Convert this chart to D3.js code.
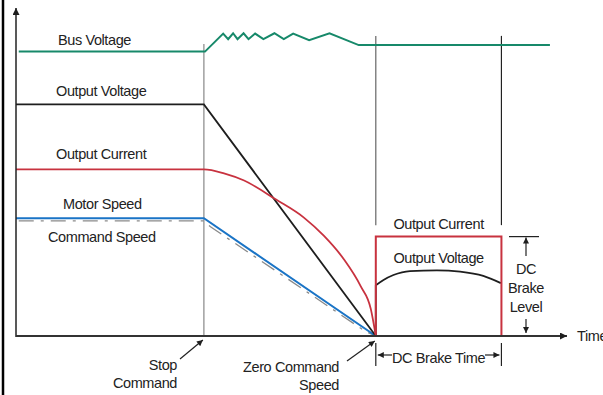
<!DOCTYPE html>
<html><head><meta charset="utf-8">
<script src="https://cdn.jsdelivr.net/npm/d3@7"></script>
<style>
html,body{margin:0;padding:0;background:#fff;}
svg{display:block;}
text{font-family:"Liberation Sans",Arial,Helvetica,sans-serif;font-size:14.5px;letter-spacing:-0.4px;fill:#222;}
</style></head>
<body>
<svg id="chart" width="603" height="395"></svg>
<script>
// ---- data (time units 0..100, level units 0..100) ----
const eventNames = ["Stop Command", "Zero Command Speed", "DC Brake End"];
const eventTimes = [34.1, 65.3, 88.1];
const busVoltage = [[0.5,86.7],[34.3,86.7],[37.6,92.2],[38.5,90.5],[39.4,92.3],[40.2,90.5],[41.3,92.3],[42.2,90.5],[43.4,92.2],[44.9,90.5],[46.9,92.3],[48.6,90.5],[50.3,92.2],[53.2,90.2],[56.9,92.3],[62.2,88.7],[96.9,88.7]];
const outputVoltage = [[0,70.6],[34.1,70.6],[65.3,0]];
const outputCurrent = [[0,50.8],[34.1,50.8],[37.75,49.6],[41.4,47.4],[47.2,41.6],[52.25,36.1],[55.9,30.5],[59.5,23.4],[62.55,15.2],[64.4,8.2],[65.3,0]];
const motorSpeed = [[0,35.9],[34.1,35.9],[65.3,0]];
const commandSpeed = [[0.5,35.1],[34.1,35.1],[35.3,33.3],[63.5,1.3],[65.3,0]];
const brakeCurrent = [[65.3,0],[65.3,30.3],[88.1,30.3],[88.1,0]];
const brakeVoltageArc = [[65.3,15.5],[66.7,17.1],[68.5,18.6],[71.5,19.8],[76.4,20.0],[80.6,19.6],[84.8,18.3],[88.0,16.1]];
const seriesLabels = ["Bus Voltage","Output Voltage","Output Current","Motor Speed","Command Speed"];
const brakeLabels = ["Output Current","Output Voltage"];
const brakeLevelLabel = ["DC","Brake","Level"];
const axisLabel = "Time";

// ---- layout ----
const svg = d3.select("#chart");
const x = d3.scaleLinear().domain([0,100]).range([16,567]);
const y = d3.scaleLinear().domain([0,100]).range([336,8]);
const C = {green:"#17896a", black:"#1e1e1e", red:"#c8323f", blue:"#1a74c6", gray:"#7a7a7a"};

const defs = svg.append("defs");
function marker(id, w, h){
  defs.append("marker").attr("id",id).attr("viewBox","0 0 10 10").attr("refX",10).attr("refY",5)
    .attr("markerWidth",w).attr("markerHeight",h).attr("markerUnits","userSpaceOnUse").attr("orient","auto")
    .append("path").attr("d","M0,0 L10,5 L0,10 z").attr("fill","#1e1e1e");
}
marker("ah", 11, 7);
marker("ahs", 11, 6);

// left frame border
svg.append("line").attr("x1",3).attr("x2",3).attr("y1",0).attr("y2",395).attr("stroke","#000").attr("stroke-width",2.5);

const line = d3.line().x(d=>x(d[0])).y(d=>y(d[1]));
const curve = d3.line().x(d=>x(d[0])).y(d=>y(d[1])).curve(d3.curveMonotoneX);

// event vertical lines
svg.append("line").attr("x1",x(eventTimes[0])).attr("x2",x(eventTimes[0])).attr("y1",y(89)).attr("y2",y(0))
  .attr("stroke","#888").attr("stroke-width",1.2);
[1,2].forEach(i=>{
  svg.append("line").attr("x1",x(eventTimes[i])).attr("x2",x(eventTimes[i])).attr("y1",y(91.5)).attr("y2",y(33.8))
    .attr("stroke", i===1?"#666":"#222").attr("stroke-width",1.2);
});

// series
svg.append("path").datum(busVoltage).attr("d",line).attr("fill","none").attr("stroke",C.green).attr("stroke-width",2);
svg.append("path").datum(commandSpeed).attr("d",line).attr("fill","none").attr("stroke","#8a8a8a").attr("stroke-width",1.3)
  .attr("stroke-dasharray","15,7,3,7");
svg.append("path").datum(motorSpeed).attr("d",line).attr("fill","none").attr("stroke",C.blue).attr("stroke-width",2);
svg.append("path").datum(outputVoltage).attr("d",line).attr("fill","none").attr("stroke",C.black).attr("stroke-width",1.8);
svg.append("path").datum(outputCurrent).attr("d",curve).attr("fill","none").attr("stroke",C.red).attr("stroke-width",1.8);
// DC brake voltage
svg.append("path").datum([[eventTimes[1],0],brakeVoltageArc[0]]).attr("d",line).attr("fill","none").attr("stroke",C.black).attr("stroke-width",1.8);
svg.append("path").datum(brakeVoltageArc).attr("d",curve).attr("fill","none").attr("stroke",C.black).attr("stroke-width",1.8);
svg.append("path").datum(brakeCurrent).attr("d",line).attr("fill","none").attr("stroke",C.red).attr("stroke-width",2);

// axes
svg.append("line").attr("x1",x(0)).attr("x2",x(0)).attr("y1",y(0)+1).attr("y2",y(100)).attr("stroke","#222").attr("stroke-width",1.5).attr("marker-end","url(#ah)");
svg.append("line").attr("x1",x(0)).attr("x2",x(100)).attr("y1",y(0)).attr("y2",y(0)).attr("stroke","#333").attr("stroke-width",2).attr("marker-end","url(#ah)");
svg.append("text").attr("x",x(100)+10).attr("y",y(0)+5).text(axisLabel);

// series labels
const labelPos = [[58,45],[56,96],[56,159],[63,209],[48,242]];
seriesLabels.forEach((t,i)=>svg.append("text").attr("x",labelPos[i][0]).attr("y",labelPos[i][1]).text(t));
const brakeLabelY = [229,263];
brakeLabels.forEach((t,i)=>svg.append("text").attr("x",(x(eventTimes[1])+x(eventTimes[2]))/2).attr("y",brakeLabelY[i]).attr("text-anchor","middle").text(t));

// DC brake level
const lvlX = 526;
svg.append("line").attr("x1",509).attr("x2",539).attr("y1",y(brakeCurrent[1][1])).attr("y2",y(brakeCurrent[1][1])).attr("stroke","#222").attr("stroke-width",1.2);
svg.append("line").attr("x1",lvlX).attr("x2",lvlX).attr("y1",256).attr("y2",y(brakeCurrent[1][1])+1).attr("stroke","#222").attr("stroke-width",1.2).attr("marker-end","url(#ahs)");
svg.append("line").attr("x1",lvlX).attr("x2",lvlX).attr("y1",319).attr("y2",333).attr("stroke","#222").attr("stroke-width",1.2).attr("marker-end","url(#ahs)");
[274,293,312].forEach((yy,i)=>svg.append("text").attr("x",lvlX).attr("y",yy).attr("text-anchor","middle").text(brakeLevelLabel[i]));

// DC brake time
[1,2].forEach(i=>svg.append("line").attr("x1",x(eventTimes[i])).attr("x2",x(eventTimes[i])).attr("y1",343).attr("y2",366).attr("stroke","#222").attr("stroke-width",1.2));
svg.append("line").attr("x1",392).attr("x2",x(eventTimes[1])+2).attr("y1",355).attr("y2",355).attr("stroke","#222").attr("stroke-width",1.2).attr("marker-end","url(#ahs)");
svg.append("line").attr("x1",485).attr("x2",x(eventTimes[2])-2).attr("y1",355).attr("y2",355).attr("stroke","#222").attr("stroke-width",1.2).attr("marker-end","url(#ahs)");
svg.append("text").attr("x",(x(eventTimes[1])+x(eventTimes[2]))/2).attr("y",363).attr("text-anchor","middle").text("DC Brake Time");

// event annotations
svg.append("line").attr("x1",180).attr("y1",359).attr("x2",x(eventTimes[0])-1).attr("y2",340).attr("stroke","#222").attr("stroke-width",1.2).attr("marker-end","url(#ahs)");
svg.append("text").attr("x",177).attr("y",370).attr("text-anchor","end").text("Stop");
svg.append("text").attr("x",177).attr("y",388).attr("text-anchor","end").text("Command");
svg.append("line").attr("x1",347).attr("y1",361).attr("x2",x(eventTimes[1])-1).attr("y2",341).attr("stroke","#222").attr("stroke-width",1.2).attr("marker-end","url(#ahs)");
svg.append("text").attr("x",339).attr("y",372).attr("text-anchor","end").text("Zero Command");
svg.append("text").attr("x",339).attr("y",390).attr("text-anchor","end").text("Speed");
</script>
</body></html>
